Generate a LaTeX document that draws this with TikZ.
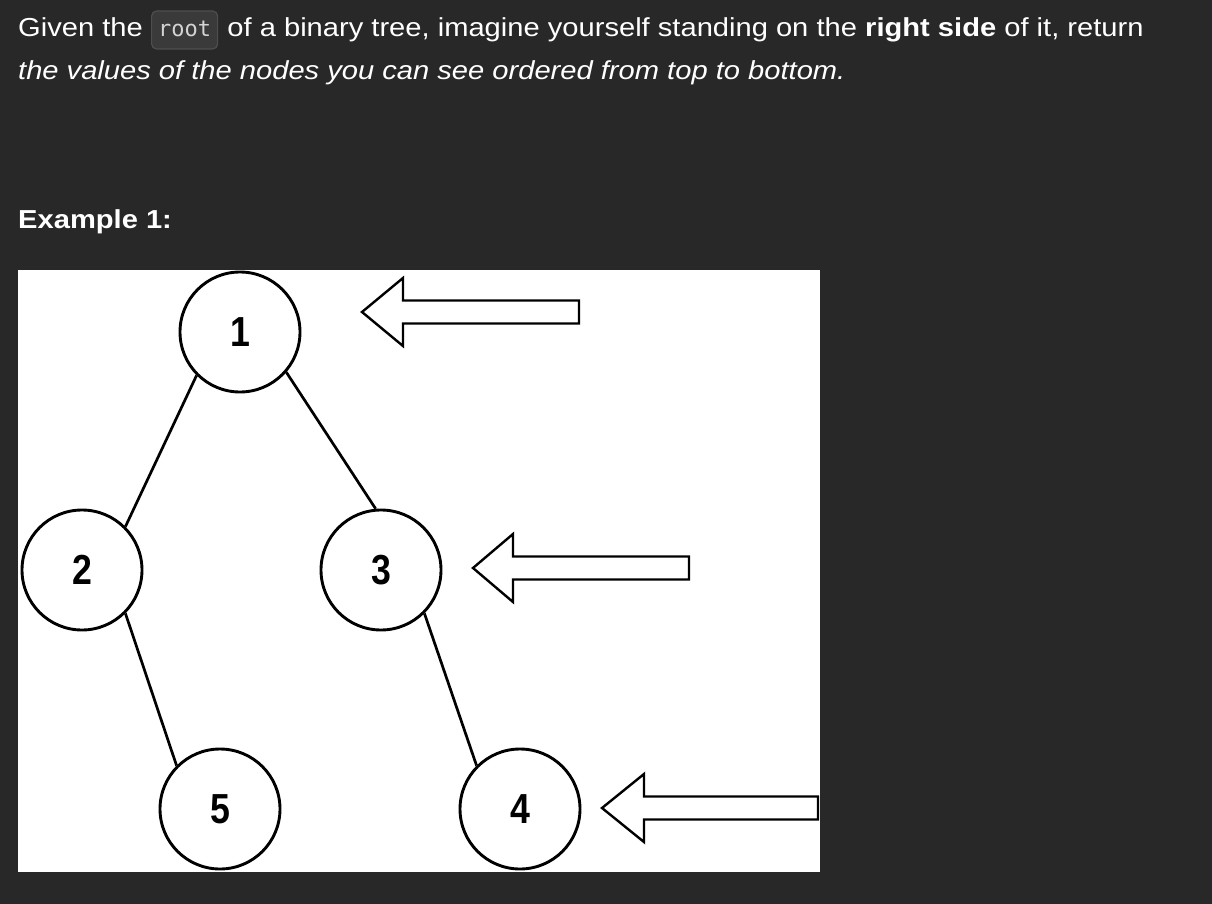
\documentclass[tikz,border=0pt]{standalone}
\usepackage{fontspec}
\setmainfont{Liberation Sans}
\setmonofont{DejaVu Sans Mono}
\newfontfamily\bodyfont[FakeStretch=1.12]{Liberation Sans}
\definecolor{bgdark}{HTML}{282828}
\definecolor{codefill}{HTML}{3A3A3A}
\definecolor{codeborder}{HTML}{4E4E4E}
\definecolor{codetext}{HTML}{D4D4D4}
\newcommand\viewarrow[5]{% name, tip x, y, head base x, end x
  \coordinate (#1) at (#2,#3);
  \draw[sarrow] (#1) -- (#4,#3-34) -- (#4,#3-11.5) -- (#5,#3-11.5) -- (#5,#3+11.5) -- (#4,#3+11.5) -- (#4,#3+34) -- cycle;}
\begin{document}
\begin{tikzpicture}[x=1pt,y=-1pt,
  txt/.style={anchor=base west, inner sep=0pt, text=white, font=\bodyfont\fontsize{26}{30}\selectfont},
  codebox/.style={anchor=base west, draw=codeborder, fill=codefill, line width=1.2pt, rounded corners=5pt,
     text=codetext, font=\fontsize{22}{24}\ttfamily, text height=18pt, text depth=4pt, inner xsep=6.5pt, inner ysep=8pt},
  tnode/.style={circle, draw=black, line width=2.9pt, minimum size=120pt, inner sep=0pt, fill=white,
     font=\fontsize{42}{42}\bfseries},
  edge/.style={draw=black, line width=2.7pt},
  sarrow/.style={draw=black, line width=2.4pt, fill=white, line join=miter}]
\useasboundingbox (0,0) rectangle (1212,904);
\fill[bgdark] (0,0) rectangle (1212,904);
% text
\node[txt] (g1) at (18,37) {Given the};
\node[codebox] (root) at ([xshift=8pt]g1.base east) {root};
\node[txt] (g2) at ([xshift=9pt]root.base east) {of a binary tree, imagine yourself standing on the \textbf{right side} of it, return};
\node[txt] (g3) at (18,80) {\itshape the values of the nodes you can see ordered from top to bottom.};
\node[txt] (ex) at (18,228) {\bfseries Example 1:};
% panel
\fill[white] (18,270) rectangle (820,872);
\begin{scope}
\clip (18,270) rectangle (820,872);
\node[tnode] (n1) at (240,332) {\scalebox{0.85}[1]{1}};
\node[tnode] (n2) at (82,570) {\scalebox{0.85}[1]{2}};
\node[tnode] (n3) at (381,570) {\scalebox{0.85}[1]{3}};
\node[tnode] (n5) at (220,809) {\scalebox{0.85}[1]{5}};
\node[tnode] (n4) at (520,809) {\scalebox{0.85}[1]{4}};
\draw[edge] (n1.225) -- (n2.45);
\draw[edge] (n1.-41) -- (n3.95);
\draw[edge] (n2.-45) -- (n5.135);
\draw[edge] (n3.-45) -- (n4.135);
\viewarrow{a1}{362}{312}{403}{579}
\viewarrow{a2}{473}{568}{513}{689}
\viewarrow{a3}{602}{808}{644}{818}
\end{scope}
\end{tikzpicture}
\end{document}
